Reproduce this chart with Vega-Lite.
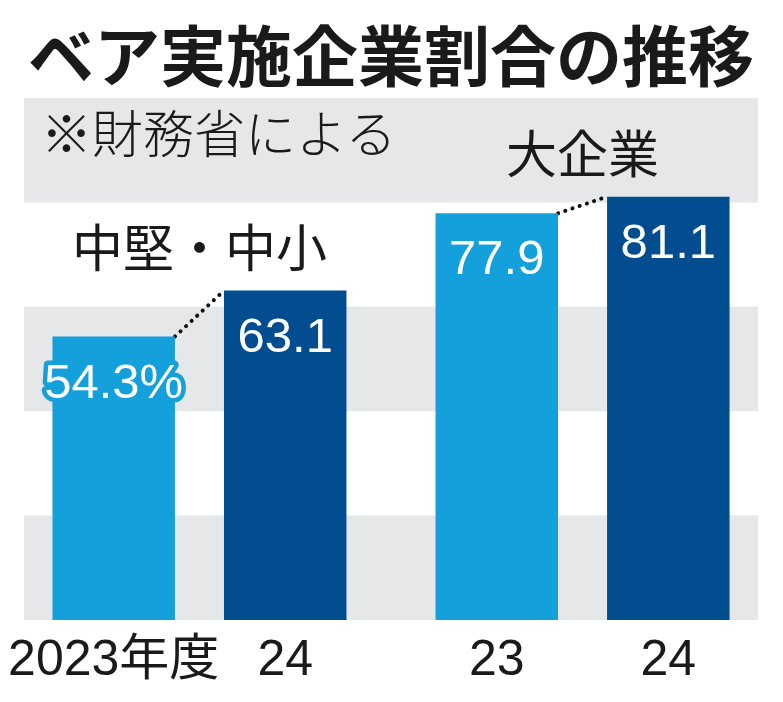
{
  "$schema": "https://vega.github.io/schema/vega-lite/v6.json",
  "width": 734,
  "height": 522,
  "autosize": {"type": "none"},
  "padding": {"left": 24, "top": 98, "right": 25, "bottom": 82},
  "background": "#ffffff",
  "title": {
    "text": "ベア実施企業割合の推移",
    "font": "Noto Sans CJK JP",
    "fontSize": 66,
    "fontWeight": "bold",
    "color": "#1a1a1a",
    "anchor": "middle",
    "frame": "group",
    "offset": 3
  },
  "config": {"view": {"stroke": null}},
  "datasets": {
    "bars": [
      {"group": "中堅・中小", "year": "2023", "xlabel": "2023年度", "value": 54.3, "label": "54.3%"},
      {"group": "中堅・中小", "year": "2024", "xlabel": "24", "value": 63.1, "label": "63.1"},
      {"group": "大企業", "year": "2023", "xlabel": "23", "value": 77.9, "label": "77.9"},
      {"group": "大企業", "year": "2024", "xlabel": "24", "value": 81.1, "label": "81.1"}
    ],
    "bands": [
      {"from": 0, "to": 20},
      {"from": 40, "to": 60},
      {"from": 80, "to": 100}
    ],
    "note": [
      {"group": "中堅・中小", "text": "※財務省による", "value": 100}
    ]
  },
  "resolve": {"scale": {"x": "independent", "xOffset": "independent"}},
  "layer": [
    {
      "data": {"name": "bands"},
      "mark": {"type": "rect", "color": "#e6e7e8"},
      "encoding": {
        "y": {"field": "from", "type": "quantitative", "scale": {"domain": [0, 100]}, "axis": null},
        "y2": {"field": "to"}
      }
    },
    {
      "data": {"name": "bars"},
      "mark": {"type": "line", "color": "#111111", "strokeWidth": 4, "strokeCap": "round", "strokeDash": [0.1, 7.5]},
      "encoding": {
        "x": {"field": "group", "type": "nominal", "sort": null, "axis": null,
              "scale": {"type": "band", "domain": ["中堅・中小", "大企業"], "paddingInner": 0.872, "paddingOuter": 0.394}},
        "xOffset": {"field": "year", "type": "nominal",
                    "scale": {"type": "point", "domain": ["2023", "2024"], "padding": 0}},
        "y": {"field": "value", "type": "quantitative", "scale": {"domain": [0, 100]}, "axis": null},
        "detail": {"field": "group"}
      }
    },
    {
      "data": {"name": "bars"},
      "encoding": {
        "x": {"field": "group", "type": "nominal", "sort": null, "axis": null,
              "scale": {"type": "band", "domain": ["中堅・中小", "大企業"], "paddingInner": 0.1, "paddingOuter": 0.008}},
        "xOffset": {"field": "year", "type": "nominal",
                    "scale": {"type": "band", "domain": ["2023", "2024"], "paddingInner": 0.286, "paddingOuter": 0.148}}
      },
      "layer": [
        {
          "mark": {"type": "bar"},
          "encoding": {
            "y": {"field": "value", "type": "quantitative", "scale": {"domain": [0, 100]}, "axis": null},
            "color": {"field": "year", "type": "nominal", "legend": null,
                      "scale": {"domain": ["2023", "2024"], "range": ["#14a0da", "#014d8f"]}}
          }
        },
        {
          "mark": {"type": "text", "font": "Liberation Sans", "fontSize": 49, "baseline": "alphabetic", "align": "center", "dy": 61, "strokeWidth": 9, "strokeJoin": "round", "fill": null},
          "encoding": {
            "y": {"field": "value", "type": "quantitative"},
            "text": {"field": "label"},
            "stroke": {"field": "year", "type": "nominal", "legend": null,
                       "scale": {"domain": ["2023", "2024"], "range": ["#14a0da", "#014d8f"]}}
          }
        },
        {
          "mark": {"type": "text", "font": "Liberation Sans", "fontSize": 49, "baseline": "alphabetic", "align": "center", "dy": 61, "color": "#ffffff"},
          "encoding": {
            "y": {"field": "value", "type": "quantitative"},
            "text": {"field": "label"}
          }
        },
        {
          "mark": {"type": "text", "font": "Liberation Sans, Noto Sans CJK JP", "fontSize": 50, "baseline": "alphabetic", "align": "center", "dy": 55, "color": "#1a1a1a"},
          "encoding": {
            "y": {"datum": 0, "type": "quantitative"},
            "text": {"field": "xlabel"}
          }
        }
      ]
    },
    {
      "data": {"name": "bars"},
      "transform": [
        {"aggregate": [{"op": "max", "field": "value", "as": "top"}], "groupby": ["group"]}
      ],
      "mark": {"type": "text", "font": "Noto Sans CJK JP", "fontSize": 51, "baseline": "alphabetic", "align": "center", "dy": -24, "color": "#1a1a1a"},
      "encoding": {
        "x": {"field": "group", "type": "nominal", "sort": null, "axis": null,
              "scale": {"type": "band", "domain": ["中堅・中小", "大企業"], "paddingInner": 0.1, "paddingOuter": 0.008}},
        "y": {"field": "top", "type": "quantitative", "scale": {"domain": [0, 100]}},
        "text": {"field": "group"}
      }
    },
    {
      "data": {"name": "note"},
      "mark": {"type": "text", "font": "Noto Sans CJK JP", "fontSize": 51, "fontWeight": 300, "baseline": "alphabetic", "align": "left", "dx": 14, "dy": 55, "color": "#1a1a1a"},
      "encoding": {
        "x": {"field": "group", "type": "nominal", "bandPosition": 0, "axis": null,
              "scale": {"type": "band", "domain": ["中堅・中小", "大企業"], "paddingInner": 0.1, "paddingOuter": 0.008}},
        "y": {"field": "value", "type": "quantitative", "scale": {"domain": [0, 100]}},
        "text": {"field": "text"}
      }
    }
  ]
}
